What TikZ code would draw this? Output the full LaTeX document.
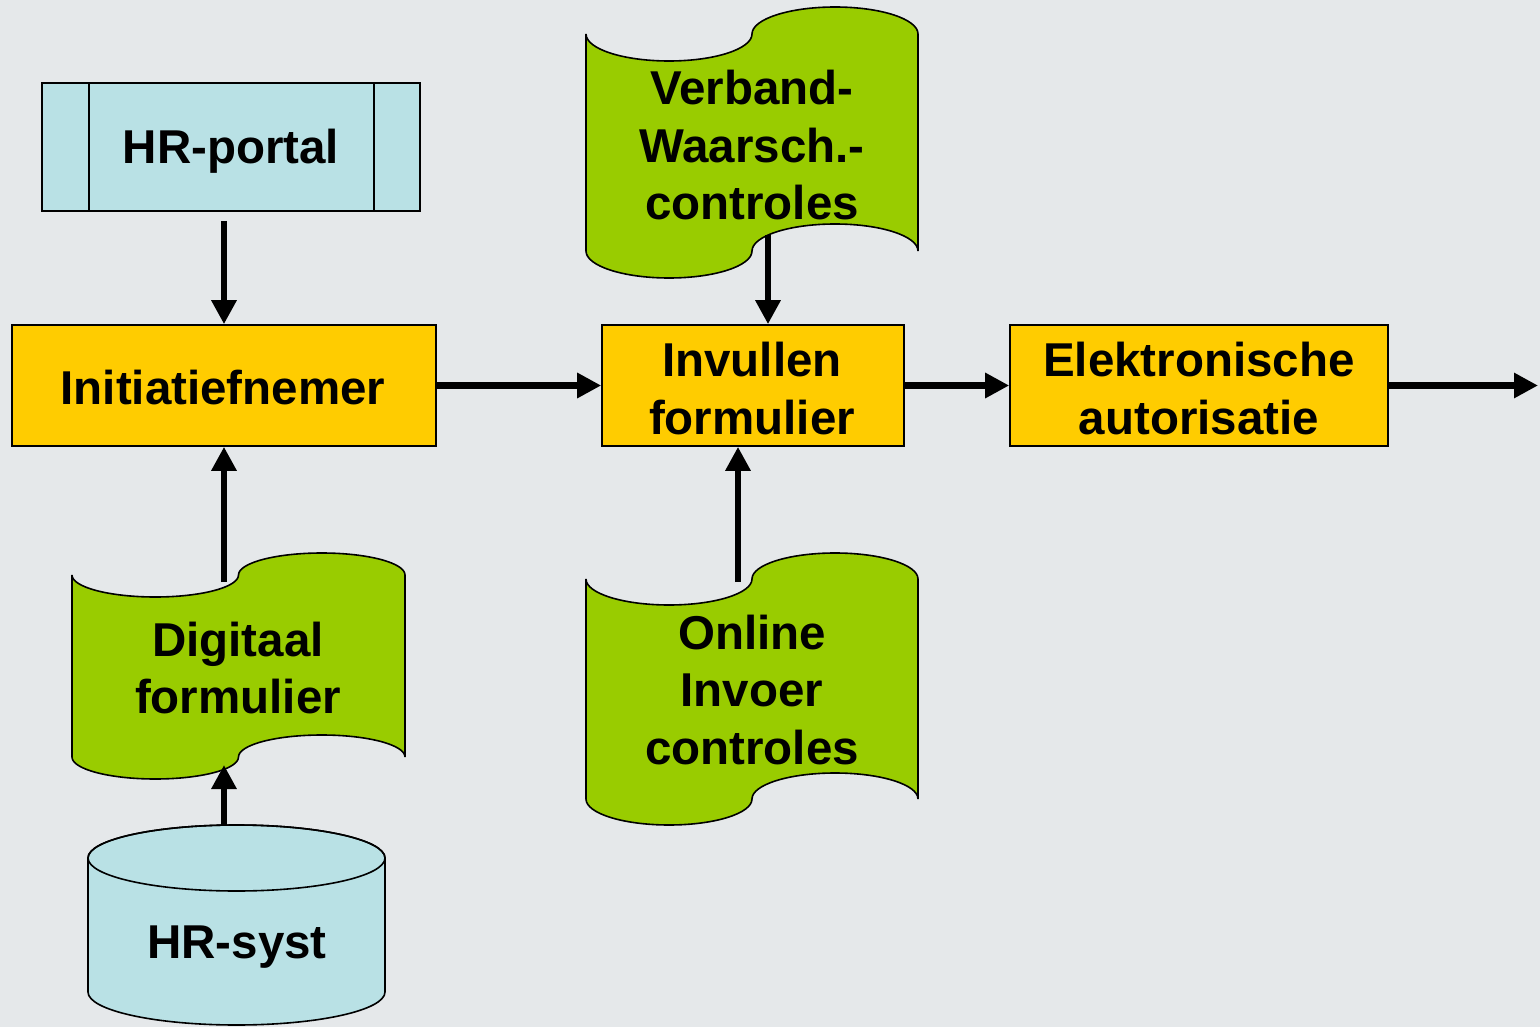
\documentclass[tikz,border=0pt]{standalone}
\usepackage{fontspec}
\setmainfont{Liberation Sans}
\usetikzlibrary{arrows.meta,calc}
\definecolor{bgc}{RGB}{229,232,234}
\definecolor{docgreen}{RGB}{153,204,0}
\definecolor{procyellow}{RGB}{255,204,0}
\definecolor{lblue}{RGB}{185,225,229}
% punched-tape document: x1 x2 ytop ybottom amplitude
\newcommand{\mydoc}[5]{%
\filldraw[docst] (#1,#3)
  arc[start angle=180, end angle=0, x radius={(#2-#1)/4}, y radius=#5]
  arc[start angle=180, end angle=360, x radius={(#2-#1)/4}, y radius=#5]
  -- (#2,#4)
  arc[start angle=0, end angle=-180, x radius={(#2-#1)/4}, y radius=#5]
  arc[start angle=0, end angle=180, x radius={(#2-#1)/4}, y radius=#5]
  -- cycle;}
\begin{document}
\begin{tikzpicture}[x=1pt,y=-1pt,
  lbl/.style={font=\fontsize{47.5}{57.5}\selectfont\bfseries, align=center, text=black, inner sep=0pt},
  boxst/.style={draw=black, line width=1.6pt, inner sep=0pt},
  proc/.style={boxst, fill=procyellow},
  docst/.style={draw=black, line width=1.6pt, fill=docgreen},
  dbst/.style={draw=black, line width=1.6pt, fill=lblue},
  arr/.style={line width=6.5pt, -{Triangle[length=24pt,width=24pt]}}]
\useasboundingbox (0,0) rectangle (1540,1027);
\fill[bgc] (0,0) rectangle (1540,1027);
% documents
\mydoc{586}{918}{34}{251}{27}
\mydoc{72}{405}{575}{757}{22}
\mydoc{586}{918}{579}{799}{26}
\node[lbl] (verb) at (752,145.5) {Verband-\\Waarsch.-\\controles};
\node[lbl] (dig) at (238,668) {Digitaal\\formulier};
\node[lbl] (onl) at (752,690) {Online\\Invoer\\controles};
% HR-portal
\node[boxst, fill=lblue, minimum width=378pt, minimum height=128pt] (portal) at (231,147) {};
\draw[line width=1.6pt] ([xshift=48pt]portal.north west) -- ([xshift=48pt]portal.south west);
\draw[line width=1.6pt] ([xshift=-47pt]portal.north east) -- ([xshift=-47pt]portal.south east);
\node[lbl] (portalT) at (231,151) {HR-portal};
% process boxes
\node[proc, minimum width=424pt, minimum height=121pt] (init) at (224,385.5) {};
\node[lbl] (initT) at (223,388) {Initiatiefnemer};
\node[proc, minimum width=302pt, minimum height=121pt] (inv) at (753,385.5) {};
\node[lbl] (invT) at (752,388.5) {Invullen\\formulier};
\node[proc, minimum width=378pt, minimum height=121pt] (elek) at (1199,385.5) {};
\node[lbl] (elekT) at (1199,388.5) {Elektronische\\autorisatie};
% HR-syst cylinder
\filldraw[dbst] (88,858) -- (88,992) arc[start angle=180, end angle=0, x radius=148.5, y radius=33] -- (385,858) arc[start angle=360, end angle=180, x radius=148.5, y radius=33] -- cycle;
\draw[line width=1.6pt] (236.5,858) ellipse[x radius=148.5, y radius=33];
\node[lbl] (hrs) at (237,947) {HR-syst};
% connector end points
\coordinate (verbout) at (768,235);
\coordinate (digout) at (224,582);
\coordinate (digin) at (224,765);
\coordinate (hrsout) at (224,825);
\coordinate (onlout) at (738,582);
\coordinate (out) at (1538,385.5);
% arrows
\draw[arr] ([shift={(-7,9)}]portal.south) -- (init.north);
\draw[arr] (digout) -- (init.south);
\draw[arr] (hrsout) -- (digin);
\draw[arr] (init.east) -- (inv.west);
\draw[arr] (verbout) -- (verbout |- inv.north);
\draw[arr] (onlout) -- (onlout |- inv.south);
\draw[arr] (inv.east) -- (elek.west);
\draw[arr] (elek.east) -- (out);
\end{tikzpicture}
\end{document}
